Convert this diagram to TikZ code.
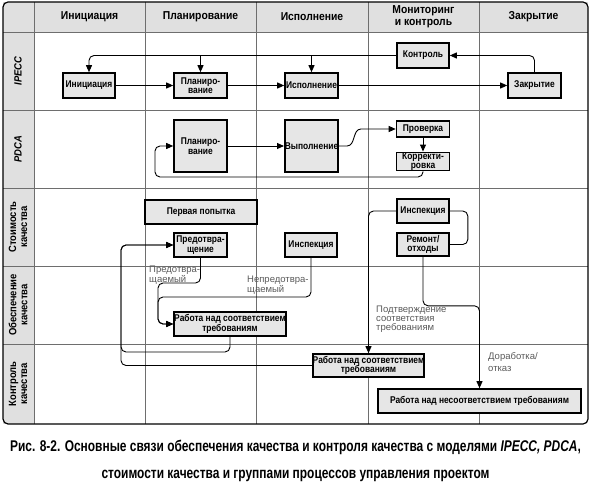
\documentclass[tikz,border=0pt]{standalone}
\usepackage{fontspec}
\setmainfont{Liberation Sans}[FakeStretch=0.9]
\newfontfamily\boxfont{Liberation Sans}[FakeStretch=0.86]
\newfontfamily\capfont{Liberation Sans}[FakeStretch=0.77]
\newfontfamily\notefont{Liberation Sans}
\usetikzlibrary{arrows.meta}
\definecolor{boxgray}{RGB}{230,230,230}
\definecolor{hdrgray}{RGB}{224,224,224}
\definecolor{linegray}{RGB}{110,110,110}
\definecolor{labgray}{RGB}{90,90,90}
\tikzset{
  qbox/.style={draw, line width=1.6pt, fill=boxgray, inner sep=1pt,
    align=center, font=\boxfont\fontsize{9.8}{9.5}\selectfont\bfseries},
  hdr/.style={font=\fontsize{11.5}{12}\selectfont\bfseries, align=center},
  rowlab/.style={rotate=90, font=\fontsize{10.5}{11}\selectfont\bfseries, align=center},
  flow/.style={line width=0.9pt, -{Triangle[length=7pt,width=6pt]}},
  note/.style={anchor=north west, inner sep=0pt, align=left, text=labgray,
    font=\notefont\fontsize{9.5}{9}\selectfont},
}
\begin{document}
\begin{tikzpicture}[x=1pt,y=-1pt]
\useasboundingbox (0,0) rectangle (591,486);
% table
\fill[hdrgray] (3,2) rectangle (588,32);
\fill[hdrgray] (3,32) rectangle (34,424);
\foreach \y in {32,110,188,266,344}
  \draw[linegray, line width=0.6pt] (3,\y) -- (588,\y);
\foreach \x in {34,145,256,368,479}
  \draw[linegray, line width=0.6pt] (\x,2) -- (\x,424);
\draw[line width=1.2pt, rounded corners=5pt] (3,2) rectangle (588,424);
% headers
\node[hdr] (hini) at (89.5,17) {Инициация};
\node[hdr] (hplan) at (200.5,17) {Планирование};
\node[hdr] (hisp) at (312,17) {Исполнение};
\node[hdr] (hmon) at (423.5,17) {Мониторинг\\и контроль};
\node[hdr] (hzak) at (533.5,17) {Закрытие};
\node[rowlab] (ripecc) at (18,71) {\itshape IPECC};
\node[rowlab] (rpdca) at (18,149) {\itshape PDCA};
\node[rowlab] (rcost) at (18,227) {Стоимость\\качества};
\node[rowlab] (rqa) at (18,305) {Обеспечение\\качества};
\node[rowlab] (rqc) at (18,384) {Контроль\\качества};
% IPECC
\node[qbox, minimum width=52pt, minimum height=25pt] (ini) at (89,85.5) {Инициация};
\node[qbox, minimum width=53pt, minimum height=25pt] (plan1) at (200.5,85.5) {Планиро-\\вание};
\node[qbox, minimum width=53pt, minimum height=25pt] (isp) at (311.5,85.5) {Исполнение};
\node[qbox, minimum width=52pt, minimum height=25pt] (kont) at (423,55.5) {Контроль};
\node[qbox, minimum width=53pt, minimum height=25pt] (zakr) at (534.5,85.5) {Закрытие};
\draw[flow] (ini) -- (plan1);
\draw[flow] (plan1) -- (isp);
\draw[flow] (isp) -- (zakr);
\draw[flow, rounded corners=5pt] (zakr.north) |- (kont.east);
\draw[flow, rounded corners=5pt] (kont.west) -| (ini.north);
\draw[flow] (plan1.north |- kont.west) -- (plan1.north);
\draw[flow] (isp.north |- kont.west) -- (isp.north);
% PDCA
\node[qbox, minimum width=53pt, minimum height=52pt] (plan2) at (200.5,146) {Планиро-\\вание};
\node[qbox, minimum width=53pt, minimum height=52pt, inner sep=0pt] (vyp) at (311.5,146) {Выполнение};
\node[qbox, minimum width=53pt, minimum height=16pt] (prov) at (423,129) {Проверка};
\node[qbox, minimum width=53pt, minimum height=17pt, inner sep=0pt] (korr) at (423,161.5) {Корректи-\\ровка};
\draw[flow] (plan2) -- (vyp);
\draw[flow] (vyp.east) -- ++(8,0) to[out=0,in=180] ++(14,-17) -- (prov.west);
\draw[flow] (prov) -- (korr);
\draw[flow, rounded corners=5pt] (korr.south) |- (155,177) |- (plan2.west);
% cost of quality
\node[qbox, minimum width=112pt, minimum height=24pt] (perv) at (201,212) {Первая попытка};
\node[qbox, minimum width=53pt, minimum height=24pt] (pred) at (200.5,245) {Предотвра-\\щение};
\node[qbox, minimum width=52pt, minimum height=24pt] (insp1) at (311,245) {Инспекция};
\node[qbox, minimum width=52pt, minimum height=24pt] (insp2) at (423,211) {Инспекция};
\node[qbox, minimum width=52pt, minimum height=23pt] (rem) at (423,244.5) {Ремонт/\\отходы};
% QA, QC
\node[qbox, minimum width=112pt, minimum height=24pt, inner sep=0pt] (rab1) at (230,324) {Работа над соответствием\\требованиям};
\node[qbox, minimum width=111pt, minimum height=23pt, inner sep=0pt] (rab2) at (368.5,365.5) {Работа над соответствием\\требованиям};
\node[qbox, minimum width=203pt, minimum height=24pt] (nes) at (479.5,401) {Работа над несоответствием требованиям};
\draw[line width=0.9pt, rounded corners=5pt] (insp2.east) -- ++(18,0) |- (rem.east);
\draw[flow, rounded corners=5pt] (insp2.west) -| (rab2.north);
\draw[flow, rounded corners=5pt] (rem.south) -- ++(0,49) -| (nes.north);
\draw[flow, rounded corners=5pt] (pred.south) |- (158,283) |- (rab1.west);
\draw[flow, rounded corners=5pt] (insp1.south) |- (158,297) |- (rab1.west);
\draw[flow, rounded corners=5pt] (rab1.south) |- (121,352) |- (pred.west);
\draw[flow, rounded corners=5pt] (rab2.west) -| (121,300) |- (pred.west);
\node[note] (npred) at (149,266) {Предотвра-\\щаемый};
\node[note] (nnepred) at (247,276) {Непредотвра-\\щаемый};
\node[note] (npodtv) at (376,306) {Подтверждение\\соответствия\\требованиям};
\node[note] (ndorab) at (488,352) {Доработка/\\[3pt]отказ};
% caption
\node[font=\capfont\fontsize{15.5}{27}\selectfont\bfseries, align=center] (cap) at (295.5,461)
  {Рис. 8-2. Основные связи обеспечения качества и контроля качества с моделями \textit{IPECC, PDCA},\\
   стоимости качества и группами процессов управления проектом};
\end{tikzpicture}
\end{document}
